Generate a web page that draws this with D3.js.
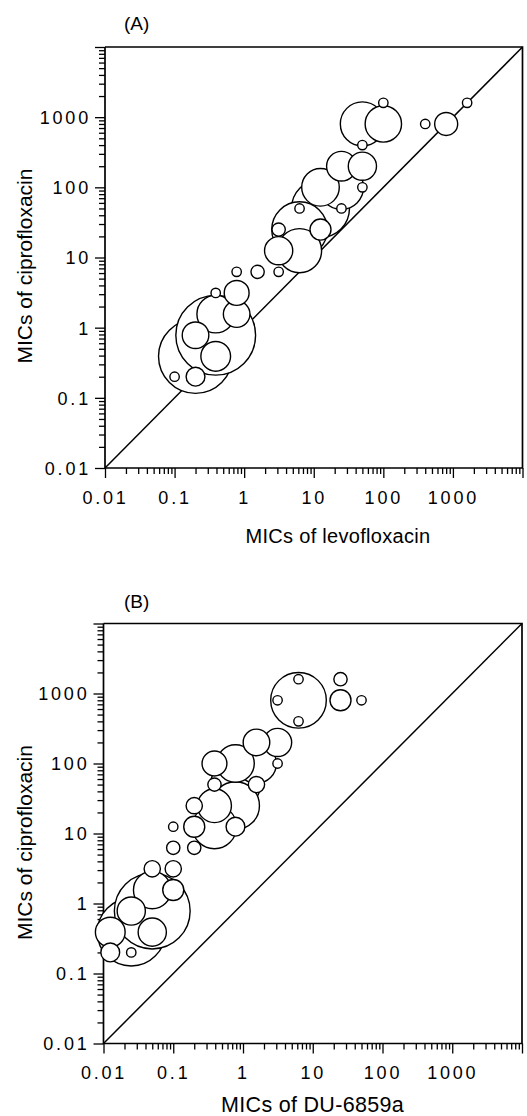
<!DOCTYPE html>
<html>
<head>
<meta charset="utf-8">
<script src="https://cdn.jsdelivr.net/npm/d3@7"></script>
<style>
  body { margin: 0; background: #fff; }
  text { font-family: "Liberation Sans", Arial, Helvetica, sans-serif; fill: #000; }
</style>
</head>
<body>
<div id="chart"></div>
<script>
var svgWidth = 527;
var svgHeight = 1116;

// (A) MICs of levofloxacin vs ciprofloxacin, number of strains per cell
var levoA  = [50, 100, 100, 50, 400, 800, 1600, 25, 50, 50, 12.5, 25, 12.5, 25, 6.25, 6.25, 12.5, 3.13, 6.25, 3.13, 0.78, 1.56, 3.13, 0.39, 0.78, 0.78, 0.39, 0.39, 0.2, 0.39, 0.2, 0.2, 0.1];
var ciproA = [800, 800, 1600, 400, 800, 800, 1600, 200, 200, 100, 100, 100, 50, 50, 50, 25, 25, 25, 12.5, 12.5, 6.25, 6.25, 6.25, 3.13, 3.13, 1.56, 1.56, 0.78, 0.78, 0.39, 0.39, 0.2, 0.2];
var countA = [22, 15, 1, 1, 1, 6, 1, 10, 9, 1, 16, 22, 38, 1, 1, 35, 5, 2, 22, 9, 1, 2, 1, 1, 7, 8, 16, 72, 8, 10, 62, 4, 1];

// (B) MICs of DU-6859a vs ciprofloxacin
var duB    = [6.25, 6.25, 3.13, 6.25, 25, 25, 50, 1.56, 3.13, 3.13, 0.39, 0.78, 1.56, 0.39, 1.56, 0.78, 0.2, 0.39, 0.78, 0.78, 0.2, 0.39, 0.1, 0.1, 0.2, 0.05, 0.1, 0.1, 0.05, 0.05, 0.025, 0.05, 0.0125, 0.025, 0.0125, 0.025];
var ciproB = [800, 1600, 800, 400, 1600, 800, 800, 200, 200, 100, 100, 100, 100, 50, 50, 50, 25, 25, 25, 12.5, 12.5, 12.5, 12.5, 6.25, 6.25, 3.13, 3.13, 1.56, 1.56, 0.78, 0.78, 0.39, 0.39, 0.39, 0.2, 0.2];
var countB = [35, 1, 1, 1, 2, 5, 1, 8, 9, 1, 7, 16, 18, 2, 3, 28, 3, 13, 26, 4, 5, 22, 1, 2, 2, 3, 3, 5, 16, 65, 9, 9, 10, 52, 4, 1];

var majorTicks = [0.01, 0.1, 1, 10, 100, 1000, 10000];
var tickLabels = ["0.01", "0.1", "1", "10", "100", "1000", ""];
var minorTicks = [];
majorTicks.slice(0, -1).forEach(function(d) {
  for (var k = 2; k <= 9; k++) minorTicks.push(d * k);
});

var panels = [
  { label: "(A)", labelY: 29.5, left: 105, right: 522.5, top: 47, bottom: 468,
    xTitle: "MICs of levofloxacin", xTitleX: 338, xTitleY: 543, xTitleSize: 20,
    yTitleY: 266, tickLabelDy: 36, xs: levoA, ys: ciproA, ns: countA },
  { label: "(B)", labelY: 607.5, left: 103.5, right: 522, top: 623.5, bottom: 1043.5,
    xTitle: "MICs of DU-6859a", xTitleX: 312.5, xTitleY: 1112, xTitleSize: 21.5,
    yTitleY: 842.5, tickLabelDy: 35, xs: duB, ys: ciproB, ns: countB }
];

var svg = d3.select("#chart")
  .append("svg")
  .attr("width", svgWidth)
  .attr("height", svgHeight);

// bubble area proportional to number of strains
var rScale = d3.scaleSqrt().domain([0, 100]).range([0, 47]);

// drawing order: the two biggest bubbles bottom row first, then by size
function drawRank(d) {
  return d.n >= 50 ? -1000 + Math.log10(d.y) : -d.n;
}

function drawPanel(p) {
  var x = d3.scaleLog().domain([0.01, 10000]).range([p.left, p.right]);
  var y = d3.scaleLog().domain([0.01, 10000]).range([p.bottom, p.top]);

  var g = svg.append("g");

  // minor and major ticks on the left axis
  g.append("g")
    .attr("transform", `translate(${p.left},0)`)
    .call(d3.axisLeft(y).tickValues(minorTicks).tickSize(6).tickSizeOuter(0).tickFormat(""))
    .call(a => a.select(".domain").remove());
  var yMajor = g.append("g")
    .attr("transform", `translate(${p.left},0)`)
    .call(d3.axisLeft(y).tickValues(majorTicks).tickSize(10).tickSizeOuter(0)
      .tickFormat((d, i) => tickLabels[i]));
  yMajor.select(".domain").remove();
  yMajor.selectAll("text")
    .attr("x", -14)
    .attr("dy", "0.36em")
    .style("font-size", "18px")
    .style("letter-spacing", "2.8px")
    .style("font-family", "'Liberation Sans', Arial, sans-serif");

  // bottom axis
  g.append("g")
    .attr("transform", `translate(0,${p.bottom})`)
    .call(d3.axisBottom(x).tickValues(minorTicks).tickSize(6).tickSizeOuter(0).tickFormat(""))
    .call(a => a.select(".domain").remove());
  var xMajor = g.append("g")
    .attr("transform", `translate(0,${p.bottom})`)
    .call(d3.axisBottom(x).tickValues(majorTicks).tickSize(10).tickSizeOuter(0)
      .tickFormat((d, i) => tickLabels[i]));
  xMajor.select(".domain").remove();
  xMajor.selectAll("text")
    .attr("y", p.tickLabelDy)
    .attr("dy", 0)
    .style("font-size", "18px")
    .style("letter-spacing", "2.8px")
    .style("font-family", "'Liberation Sans', Arial, sans-serif");

  g.selectAll(".tick line").attr("stroke", "#000").attr("stroke-width", 1.3);

  // frame: left, bottom, top and right lines
  g.append("path")
    .attr("d", `M${p.left},${p.top}V${p.bottom}H${p.right}V${p.top}H${p.left}`)
    .attr("fill", "none")
    .attr("stroke", "#000")
    .attr("stroke-width", 1.7);

  // line of identity (hidden behind the bubbles)
  g.append("line")
    .attr("x1", x(0.01)).attr("y1", y(0.01))
    .attr("x2", x(10000)).attr("y2", y(10000))
    .attr("stroke", "#000")
    .attr("stroke-width", 1.5);

  var points = p.xs.map((d, i) => ({ x: d, y: p.ys[i], n: p.ns[i] }));
  points.sort((a, b) => drawRank(a) - drawRank(b) || a.x - b.x);

  g.selectAll("circle.bubble")
    .data(points)
    .enter()
    .append("circle")
    .attr("class", "bubble")
    .attr("cx", d => x(d.x))
    .attr("cy", d => y(d.y))
    .attr("r", d => rScale(d.n))
    .attr("fill", "#fff")
    .attr("stroke", "#000")
    .attr("stroke-width", 1.4);

  // panel letter
  g.append("text")
    .attr("x", 124)
    .attr("y", p.labelY)
    .style("font-size", "19px")
    .text(p.label);

  // axis titles
  g.append("text")
    .attr("x", p.xTitleX)
    .attr("y", p.xTitleY)
    .attr("text-anchor", "middle")
    .style("font-size", p.xTitleSize + "px")
    .style("letter-spacing", "0.3px")
    .text(p.xTitle);

  g.append("text")
    .attr("transform", `translate(31.5,${p.yTitleY}) rotate(-90)`)
    .attr("text-anchor", "middle")
    .style("font-size", "21px")
    .text("MICs of ciprofloxacin");
}

panels.forEach(drawPanel);
</script>
</body>
</html>
